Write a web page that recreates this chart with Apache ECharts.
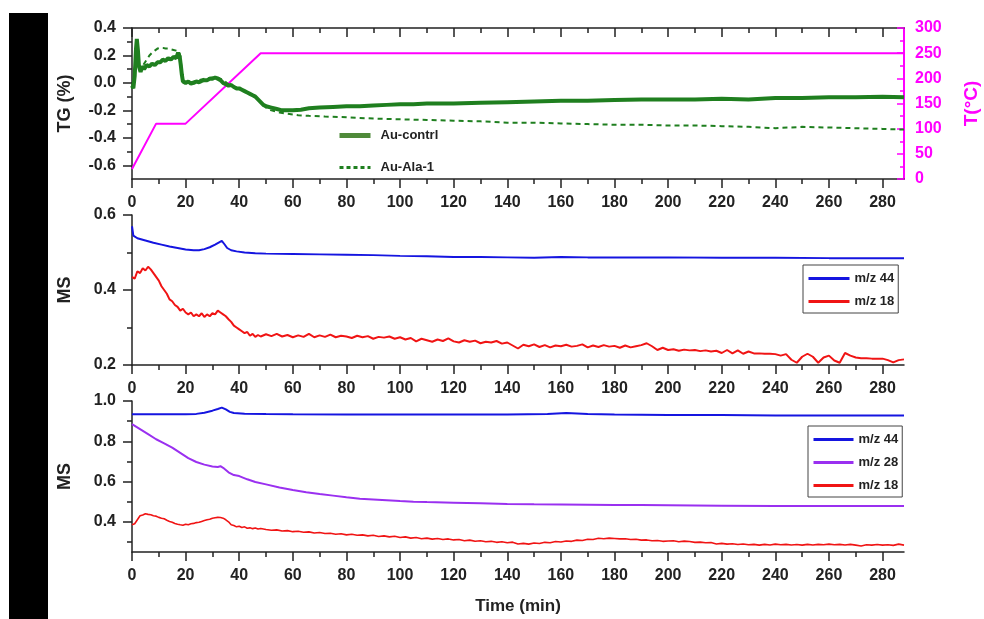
<!DOCTYPE html>
<html><head><meta charset="utf-8">
<script src="https://cdn.jsdelivr.net/npm/echarts@6/dist/echarts.min.js"></script>
<style>html,body{margin:0;padding:0;background:#fff}#c{width:984px;height:619px}</style>
</head><body><div id="c"></div>
<script>
// ---- tick labels ----
const xMajor = [0,20,40,60,80,100,120,140,160,180,200,220,240,260,280];
const xMinor = [10,30,50,70,90,110,130,150,170,190,210,230,250,270];
const tgMajor = [-0.6,-0.4,-0.2,0.0,0.2,0.4];
const tgMinor = [-0.5,-0.3,-0.1,0.1,0.3];
const tMajor = [0,50,100,150,200,250,300];
const tMinor = [25,75,125,175,225,275];
const ms1Major = [0.2,0.4,0.6];
const ms1Minor = [0.3,0.5];
const ms2Major = [0.4,0.6,0.8,1.0];
const ms2Minor = [0.3,0.5,0.7,0.9];

// ---- data: [time (min), value] ----
const tgContrl = [[0,-0.02],[0.5,-0.04],[1,0.05],[1.5,0.25],[1.8,0.32],[2.2,0.24],[2.6,0.12],[3.2,0.08],[3.8,0.12],[4.5,0.1],[5.5,0.13],[6.5,0.12],[7.5,0.14],[8.5,0.13],[9.5,0.15],[10.5,0.15],[11.5,0.17],[12.5,0.16],[13.5,0.18],[14.5,0.17],[15.5,0.19],[16.5,0.18],[17.2,0.22],[17.8,0.19],[18.2,0.13],[18.6,0.06],[19,0.01],[20,0.0],[21,0.01],[22,-0.005],[23,0.0],[24,0.01],[25,0.005],[26,0.015],[27,0.02],[28,0.02],[29,0.03],[30,0.03],[31,0.04],[32,0.03],[33,0.02],[34,0.0],[35,-0.01],[36,-0.02],[37,-0.015],[38,-0.03],[39,-0.04],[40,-0.04],[41,-0.05],[42,-0.06],[43,-0.07],[44,-0.08],[45,-0.09],[46,-0.1],[47,-0.12],[48,-0.14],[49,-0.16],[50,-0.17],[52,-0.18],[54,-0.19],[56,-0.2],[58,-0.2],[60,-0.2],[63,-0.195],[66,-0.185],[70,-0.18],[75,-0.175],[80,-0.17],[85,-0.17],[90,-0.165],[95,-0.16],[100,-0.155],[105,-0.155],[110,-0.15],[115,-0.15],[120,-0.15],[130,-0.145],[140,-0.14],[150,-0.135],[160,-0.13],[170,-0.13],[180,-0.125],[190,-0.12],[200,-0.12],[210,-0.12],[220,-0.115],[230,-0.12],[240,-0.11],[250,-0.11],[260,-0.105],[270,-0.105],[280,-0.1],[288,-0.105]];
const tgAla = [[0,-0.02],[1,0.05],[1.8,0.28],[2.5,0.14],[3.5,0.1],[4.5,0.14],[5.5,0.17],[6.5,0.2],[7.5,0.22],[8.5,0.235],[9.5,0.25],[10.5,0.255],[11.5,0.255],[12.5,0.25],[13.5,0.25],[14.5,0.245],[15.5,0.24],[16.5,0.235],[17.5,0.23],[18,0.2],[18.5,0.1],[19,0.02],[20,0.01],[22,0.005],[24,0.015],[26,0.025],[28,0.035],[30,0.04],[32,0.04],[34,0.02],[36,-0.01],[38,-0.03],[40,-0.045],[42,-0.06],[44,-0.08],[46,-0.1],[48,-0.14],[50,-0.18],[52,-0.2],[55,-0.215],[58,-0.225],[62,-0.235],[66,-0.24],[72,-0.245],[80,-0.25],[90,-0.26],[100,-0.265],[110,-0.27],[120,-0.275],[130,-0.28],[140,-0.29],[150,-0.29],[160,-0.295],[170,-0.3],[180,-0.305],[190,-0.305],[200,-0.31],[210,-0.31],[220,-0.315],[230,-0.32],[240,-0.33],[250,-0.32],[260,-0.325],[270,-0.33],[280,-0.335],[288,-0.34]];
const tempC = [[0,20],[9,110],[20,110],[48,250],[288,250]];

const ms1_44 = [[0,0.57],[0.5,0.545],[2,0.538],[5,0.532],[8,0.526],[11,0.521],[14,0.516],[17,0.512],[20,0.508],[23,0.506],[25,0.506],[27,0.509],[29,0.514],[31,0.521],[32.5,0.527],[33.5,0.531],[34.5,0.522],[35.5,0.512],[37,0.506],[39,0.503],[42,0.5],[46,0.498],[50,0.497],[60,0.496],[70,0.495],[80,0.494],[90,0.493],[100,0.491],[110,0.49],[120,0.488],[130,0.488],[140,0.487],[150,0.486],[160,0.488],[170,0.487],[180,0.487],[190,0.487],[200,0.487],[220,0.486],[240,0.486],[260,0.485],[280,0.485],[288,0.485]];
const ms1_18 = [[0,0.435],[1,0.43],[2,0.45],[3,0.445],[4,0.458],[5,0.452],[6,0.462],[7,0.455],[8,0.445],[9,0.435],[10,0.425],[11,0.41],[12,0.4],[13,0.39],[14,0.375],[15,0.37],[16,0.36],[17,0.355],[18,0.345],[19,0.35],[20,0.34],[21,0.335],[22,0.34],[23,0.33],[24,0.335],[25,0.33],[26,0.338],[27,0.328],[28,0.335],[29,0.33],[30,0.338],[31,0.335],[32,0.345],[33,0.34],[34,0.335],[35,0.33],[36,0.322],[37,0.315],[38,0.305],[39,0.3],[40,0.295],[41,0.29],[42,0.285],[43,0.288],[44,0.278],[45,0.283],[46,0.275],[47,0.28],[48,0.276],[50,0.282],[52,0.277],[54,0.283],[56,0.276],[58,0.28],[60,0.274],[62,0.279],[64,0.275],[66,0.283],[68,0.274],[70,0.279],[72,0.275],[74,0.281],[76,0.274],[78,0.278],[80,0.276],[82,0.272],[84,0.278],[86,0.274],[88,0.277],[90,0.27],[92,0.275],[94,0.273],[96,0.276],[98,0.27],[100,0.274],[102,0.268],[104,0.272],[106,0.263],[108,0.27],[110,0.266],[112,0.262],[114,0.268],[116,0.264],[118,0.271],[120,0.263],[122,0.26],[124,0.266],[126,0.262],[128,0.265],[130,0.258],[132,0.262],[134,0.26],[136,0.264],[138,0.257],[140,0.26],[142,0.252],[144,0.244],[146,0.254],[148,0.25],[150,0.255],[152,0.248],[154,0.253],[156,0.247],[158,0.252],[160,0.25],[162,0.254],[164,0.249],[166,0.251],[168,0.255],[170,0.247],[172,0.252],[174,0.248],[176,0.253],[178,0.249],[180,0.251],[182,0.246],[184,0.252],[186,0.247],[188,0.25],[190,0.253],[192,0.258],[194,0.25],[196,0.24],[198,0.246],[200,0.24],[202,0.242],[204,0.238],[206,0.241],[208,0.239],[210,0.24],[212,0.237],[214,0.239],[216,0.236],[218,0.238],[220,0.232],[222,0.24],[224,0.231],[226,0.239],[228,0.23],[230,0.236],[232,0.231],[234,0.231],[236,0.23],[238,0.23],[240,0.229],[242,0.225],[244,0.229],[246,0.214],[248,0.206],[250,0.222],[252,0.23],[254,0.222],[256,0.206],[258,0.22],[260,0.225],[262,0.212],[264,0.206],[266,0.232],[268,0.225],[270,0.22],[272,0.218],[274,0.218],[276,0.217],[278,0.217],[280,0.217],[282,0.213],[284,0.207],[286,0.213],[288,0.215]];

const ms2_44 = [[0,0.934],[10,0.934],[20,0.934],[24,0.936],[27,0.942],[30,0.952],[32,0.96],[33.5,0.967],[35,0.958],[36.5,0.946],[38,0.94],[42,0.937],[50,0.935],[60,0.934],[80,0.933],[100,0.933],[120,0.933],[140,0.933],[155,0.936],[162,0.94],[170,0.936],[180,0.933],[200,0.931],[220,0.93],[240,0.928],[260,0.928],[280,0.928],[288,0.928]];
const ms2_28 = [[0,0.885],[3,0.86],[6,0.835],[9,0.81],[12,0.79],[15,0.768],[18,0.742],[21,0.716],[24,0.697],[27,0.684],[30,0.675],[32,0.672],[33,0.676],[34,0.668],[36,0.646],[38,0.632],[40,0.627],[43,0.611],[46,0.598],[50,0.586],[55,0.57],[60,0.558],[65,0.547],[70,0.538],[75,0.53],[80,0.522],[85,0.515],[90,0.511],[95,0.507],[100,0.503],[105,0.5],[110,0.498],[120,0.495],[130,0.492],[140,0.489],[150,0.487],[160,0.486],[170,0.485],[180,0.484],[190,0.483],[200,0.482],[220,0.48],[240,0.478],[260,0.478],[280,0.478],[288,0.478]];
const ms2_18 = [[0,0.385],[1,0.39],[2,0.41],[3,0.43],[4,0.434],[5,0.44],[6,0.437],[7,0.435],[8,0.43],[9,0.428],[10,0.422],[11,0.418],[12,0.415],[13,0.408],[14,0.402],[15,0.398],[16,0.392],[17,0.388],[18,0.385],[19,0.383],[20,0.388],[21,0.385],[22,0.39],[23,0.392],[24,0.396],[25,0.398],[26,0.402],[27,0.406],[28,0.41],[29,0.413],[30,0.418],[31,0.42],[32,0.422],[33,0.421],[34,0.418],[35,0.41],[36,0.4],[37,0.385],[38,0.382],[39,0.375],[40,0.378],[41,0.372],[42,0.375],[43,0.368],[44,0.37],[45,0.366],[46,0.369],[47,0.364],[48,0.367],[50,0.362],[52,0.358],[54,0.36],[56,0.354],[58,0.356],[60,0.351],[62,0.353],[64,0.348],[66,0.35],[68,0.344],[70,0.347],[72,0.342],[74,0.343],[76,0.338],[78,0.341],[80,0.335],[82,0.338],[84,0.333],[86,0.335],[88,0.33],[90,0.333],[92,0.327],[94,0.33],[96,0.325],[98,0.328],[100,0.322],[102,0.325],[104,0.319],[106,0.322],[108,0.316],[110,0.319],[112,0.314],[114,0.317],[116,0.312],[118,0.315],[120,0.31],[122,0.312],[124,0.306],[126,0.309],[128,0.303],[130,0.306],[132,0.301],[134,0.303],[136,0.298],[138,0.301],[140,0.296],[142,0.299],[144,0.29],[146,0.293],[148,0.289],[150,0.295],[152,0.292],[154,0.298],[156,0.296],[158,0.302],[160,0.3],[162,0.305],[164,0.303],[166,0.309],[168,0.307],[170,0.313],[172,0.312],[174,0.318],[176,0.316],[178,0.319],[180,0.317],[182,0.315],[184,0.316],[186,0.312],[188,0.313],[190,0.309],[192,0.31],[194,0.306],[196,0.307],[198,0.303],[200,0.305],[202,0.306],[204,0.301],[206,0.304],[208,0.302],[210,0.298],[212,0.299],[214,0.296],[216,0.297],[218,0.29],[220,0.293],[222,0.289],[224,0.291],[226,0.287],[228,0.29],[230,0.286],[232,0.288],[234,0.284],[236,0.288],[238,0.285],[240,0.289],[242,0.286],[244,0.288],[246,0.285],[248,0.287],[250,0.284],[252,0.288],[254,0.285],[256,0.288],[258,0.286],[260,0.289],[262,0.286],[264,0.288],[266,0.285],[268,0.288],[270,0.284],[272,0.28],[274,0.286],[276,0.284],[278,0.287],[280,0.284],[282,0.286],[284,0.283],[286,0.289],[288,0.284]];

// ---- styling ----
const FONT = 'Arial, "Liberation Sans", sans-serif';
const AX = '#222';
const GREEN = '#1f7f1f', LGREEN = '#4f8a3a', MAG = '#ff00ff', BLUE = '#1515e0', PURP = '#9a30f0', RED = '#f01414';
const XMIN = 0, XMAX = 288;
const lblStyle = {color: AX, fontFamily: FONT, fontWeight: 'bold', fontSize: 16};

function xAxisMajor(grid, pos, showLbl, inside, extra) {
  return Object.assign({
    type: 'value', gridIndex: grid, position: pos, min: XMIN, max: XMAX,
    axisLine: {show: true, onZero: false, lineStyle: {color: AX, width: 1.5}},
    axisTick: {show: true, inside: inside, length: 9, customValues: xMajor, lineStyle: {color: AX, width: 1.5}},
    axisLabel: Object.assign({show: showLbl, margin: 16, customValues: xMajor}, lblStyle),
    splitLine: {show: false}
  }, extra || {});
}
function xAxisMinor(grid, pos, inside) {
  return {
    type: 'value', gridIndex: grid, position: pos, min: XMIN, max: XMAX,
    axisLine: {show: false, onZero: false},
    axisTick: {show: true, inside: inside, length: 5, customValues: xMinor, lineStyle: {color: AX, width: 1.5}},
    axisLabel: {show: false}, splitLine: {show: false}
  };
}
function yAxisMajor(grid, min, max, major, name) {
  return {
    type: 'value', gridIndex: grid, position: 'left', min: min, max: max,
    name: name, nameLocation: 'middle', nameGap: 58, nameRotate: 90,
    nameTextStyle: {color: AX, fontFamily: FONT, fontWeight: 'bold', fontSize: 18},
    axisLine: {show: true, onZero: false, lineStyle: {color: AX, width: 1.5}},
    axisTick: {show: true, inside: false, length: 9, customValues: major, lineStyle: {color: AX, width: 1.5}},
    axisLabel: Object.assign({margin: 16, customValues: major, formatter: v => (+v).toFixed(1)}, lblStyle),
    splitLine: {show: false}
  };
}
function yAxisMinor(grid, min, max, minor) {
  return {
    type: 'value', gridIndex: grid, position: 'left', min: min, max: max,
    axisLine: {show: false, onZero: false},
    axisTick: {show: true, inside: false, length: 5, customValues: minor, lineStyle: {color: AX, width: 1.5}},
    axisLabel: {show: false}, splitLine: {show: false}
  };
}
function line(name, data, color, xi, yi, width, type) {
  return {
    type: 'line', name: name, data: data, xAxisIndex: xi, yAxisIndex: yi,
    showSymbol: false, symbol: 'none', smooth: false,
    lineStyle: {color: color, width: width, type: type || 'solid'},
    itemStyle: {color: color}, emphasis: {disabled: true}
  };
}
function legendBox(left, top, names, boxed, opts) {
  return Object.assign({
    orient: 'vertical', left: left, top: top,
    data: names.map(n => ({name: n, lineStyle: {width: 3}})),
    itemWidth: 41, itemHeight: 12, itemGap: 10,
    padding: boxed ? [7, 4, 5, 4] : 0,
    borderColor: boxed ? '#444' : 'transparent', borderWidth: boxed ? 1 : 0,
    itemStyle: {opacity: 0, borderWidth: 0},
    textStyle: {color: AX, fontFamily: FONT, fontWeight: 'bold', fontSize: 13},
    selectedMode: false
  }, opts || {});
}

const chart = echarts.init(document.getElementById('c'), null, {renderer: 'canvas'});
chart.setOption({
  animation: false,
  backgroundColor: '#fff',
  graphic: [{type: 'rect', left: 9, top: 13, shape: {width: 39, height: 606}, style: {fill: '#000'}}],
  grid: [
    {left: 132, top: 28, width: 772, height: 151, outerBoundsMode: 'none', containLabel: false},
    {left: 132, top: 215, width: 772, height: 150, outerBoundsMode: 'none', containLabel: false},
    {left: 132, top: 401, width: 772, height: 151, outerBoundsMode: 'none', containLabel: false}
  ],
  xAxis: [
    xAxisMajor(0, 'bottom', true, false),
    xAxisMinor(0, 'bottom', false),
    xAxisMajor(0, 'top', false, true),
    xAxisMinor(0, 'top', true),
    xAxisMajor(1, 'bottom', true, false),
    xAxisMinor(1, 'bottom', false),
    xAxisMajor(2, 'bottom', true, false, {
      name: 'Time (min)', nameLocation: 'middle', nameGap: 46,
      nameTextStyle: {color: AX, fontFamily: FONT, fontWeight: 'bold', fontSize: 17}
    }),
    xAxisMinor(2, 'bottom', false)
  ],
  yAxis: [
    yAxisMajor(0, -0.7, 0.4, tgMajor, 'TG (%)'),
    yAxisMinor(0, -0.7, 0.4, tgMinor),
    {
      type: 'value', gridIndex: 0, position: 'right', min: 0, max: 300,
      name: 'T(°C)', nameLocation: 'middle', nameGap: 58, nameRotate: 90,
      nameTextStyle: {color: MAG, fontFamily: FONT, fontWeight: 'bold', fontSize: 19},
      axisLine: {show: true, onZero: false, lineStyle: {color: MAG, width: 2}},
      axisTick: {show: true, inside: true, length: 7, customValues: tMajor, lineStyle: {color: MAG, width: 1.5}},
      axisLabel: {color: MAG, fontFamily: FONT, fontWeight: 'bold', fontSize: 16, margin: 11, customValues: tMajor},
      splitLine: {show: false}
    },
    {
      type: 'value', gridIndex: 0, position: 'right', min: 0, max: 300,
      axisLine: {show: false, onZero: false},
      axisTick: {show: true, inside: true, length: 4, customValues: tMinor, lineStyle: {color: MAG, width: 1.5}},
      axisLabel: {show: false}, splitLine: {show: false}
    },
    yAxisMajor(1, 0.2, 0.6, ms1Major, 'MS'),
    yAxisMinor(1, 0.2, 0.6, ms1Minor),
    yAxisMajor(2, 0.25, 1.0, ms2Major, 'MS'),
    yAxisMinor(2, 0.25, 1.0, ms2Minor)
  ],
  legend: [
    legendBox(337, 129, [], false, {
      data: [
        {name: 'Au-contrl', lineStyle: {width: 5, color: LGREEN}},
        {name: 'Au-Ala-1', lineStyle: {width: 3, type: [4, 3], color: GREEN}}
      ],
      itemWidth: 31, itemHeight: 14, itemGap: 19,
      textStyle: {color: AX, fontFamily: FONT, fontWeight: 'bold', fontSize: 13, padding: [0, 0, 0, 5]}}),
    legendBox(803, 265, ['m/z 44', 'm/z 18'], true),
    legendBox(808, 426, ['m/z 44', 'm/z 28', 'm/z 18'], true, {itemWidth: 40})
  ],
  series: [
    line('T', tempC, MAG, 0, 2, 2),
    line('Au-Ala-1', tgAla, GREEN, 0, 0, 2, [5, 4]),
    line('Au-contrl', tgContrl, GREEN, 0, 0, 4),
    line('m/z 44', ms1_44, BLUE, 4, 4, 2),
    line('m/z 18', ms1_18, RED, 4, 4, 2),
    line('m/z 44', ms2_44, BLUE, 6, 6, 2),
    line('m/z 28', ms2_28, PURP, 6, 6, 2),
    line('m/z 18', ms2_18, RED, 6, 6, 1.6)
  ]
});
</script>
</body></html>
